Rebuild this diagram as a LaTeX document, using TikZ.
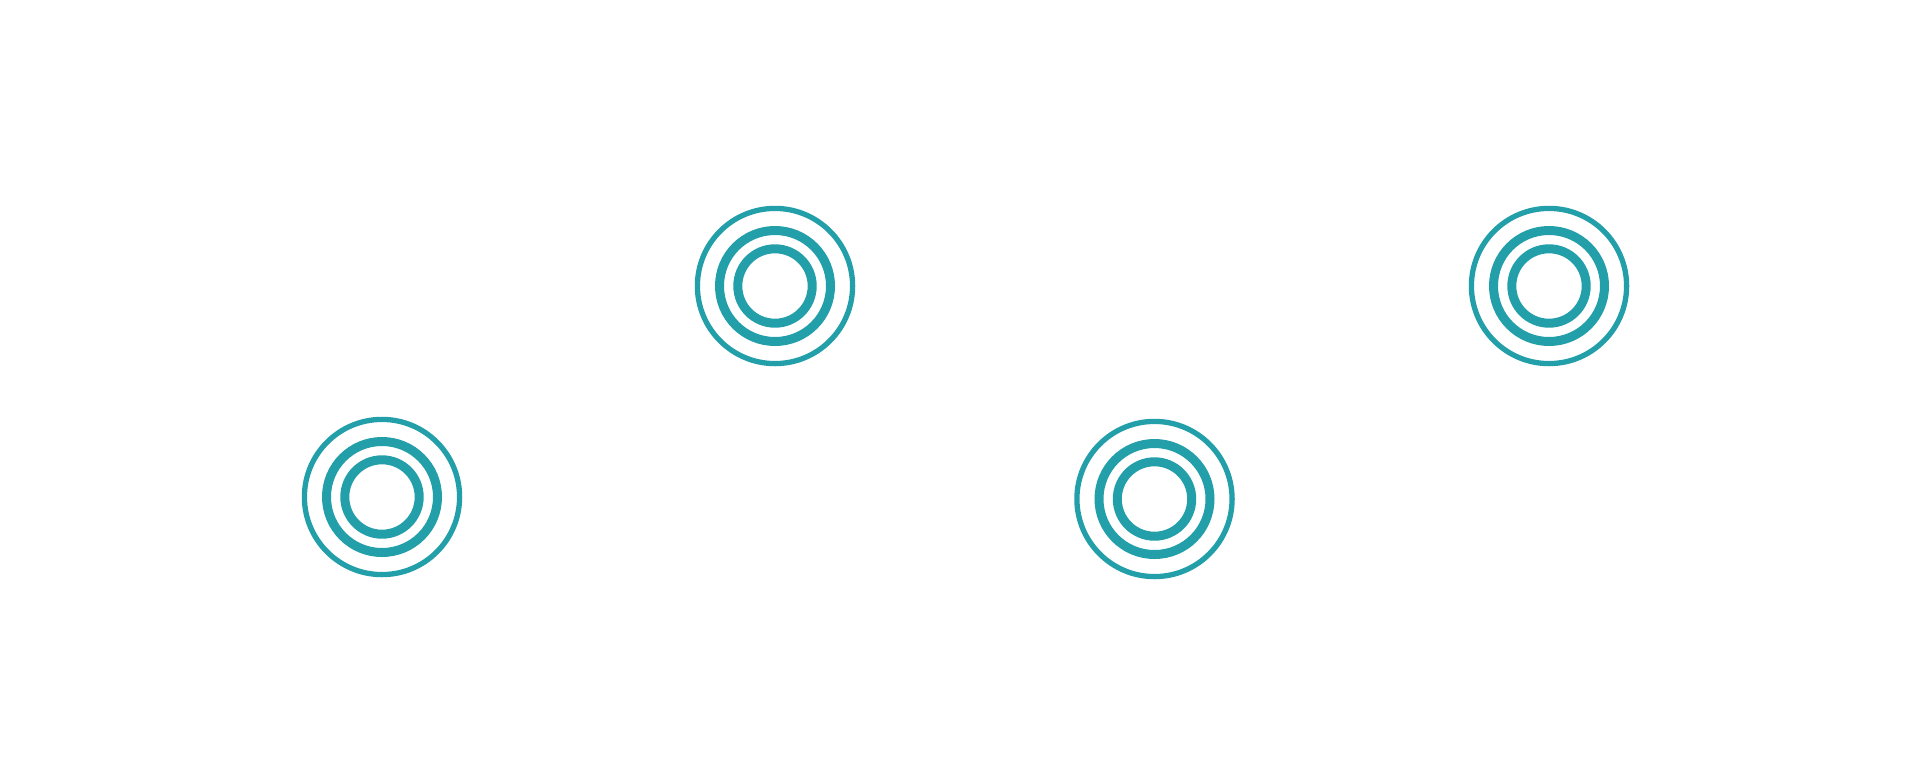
\documentclass[tikz,border=0pt]{standalone}
\definecolor{teal1}{RGB}{35,159,170}
\tikzset{
  ringout/.style={draw=teal1, line width=5.3pt},
  ringmid/.style={draw=teal1, line width=9pt},
  ringin/.style={draw=teal1, line width=9pt},
}
\begin{document}
\begin{tikzpicture}[x=1pt,y=-1pt]
\useasboundingbox[fill=white] (0,0) rectangle (1920,780);
\coordinate (s1) at (382,497);
\coordinate (s2) at (775,286);
\coordinate (s3) at (1154.5,499);
\coordinate (s4) at (1549,286);
\foreach \s in {s1,s2,s3,s4}{
  \draw[ringout] (\s) circle[radius=77.6pt];
  \draw[ringmid] (\s) circle[radius=55.5pt];
  \draw[ringin] (\s) circle[radius=37.2pt];
}
\end{tikzpicture}
\end{document}
